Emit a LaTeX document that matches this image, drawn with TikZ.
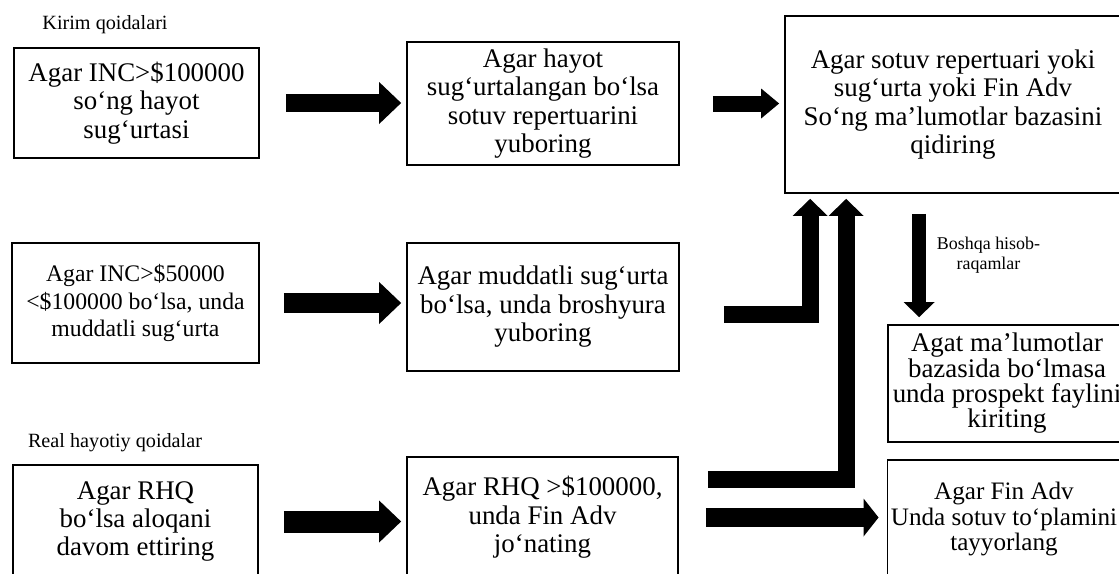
\documentclass[tikz,border=0pt]{standalone}
\usepackage{fontspec}
\setmainfont{Liberation Serif}
\usepackage{tikz}
\usetikzlibrary{arrows.meta,positioning,calc}

\begin{document}
\begin{tikzpicture}[
  rulebox/.style={draw,line width=1pt,align=center,inner sep=2pt,
    font=\fontsize{15.3}{16.2}\selectfont},
  rulelabel/.style={font=\fontsize{11.5}{14}\selectfont},
  bigarrow/.style={line width=0.36cm,line join=miter,
    -{Triangle[width=0.84cm,length=0.44cm,line width=0pt]}}
]
  \useasboundingbox (0,0) rectangle (22.38,-11.46);
  \clip (0,0) rectangle (22.38,-11.46);

  % left column
  \node[rulelabel] (kirim) at (2.1,-0.5) {Kirim qoidalari};
  \node[rulebox,minimum width=4.9cm,minimum height=2.2cm] (a1) at (2.73,-2.06)
    {Agar INC>\$100000\\so‘ng hayot\\sug‘urtasi};
  \node[rulebox,minimum width=4.94cm,minimum height=2.4cm,
    font=\fontsize{13.5}{15.4}\selectfont] (a2) at (2.71,-6.06)
    {Agar INC>\$50000\\<\$100000 bo‘lsa, unda\\muddatli sug‘urta};
  \node[rulelabel] (real) at (2.3,-8.86) {Real hayotiy qoidalar};
  \node[rulebox,minimum width=4.9cm,minimum height=2.26cm] (a3) at (2.71,-10.43)
    {Agar RHQ\\bo‘lsa aloqani\\davom ettiring};

  % middle column
  \node[rulebox,minimum width=5.44cm,minimum height=2.46cm] (b1) at (10.86,-2.07)
    {Agar hayot\\sug‘urtalangan bo‘lsa\\sotuv repertuarini\\yuboring};
  \node[rulebox,minimum width=5.44cm,minimum height=2.56cm] (b2) at (10.86,-6.14)
    {Agar muddatli sug‘urta\\bo‘lsa, unda broshyura\\yuboring};
  \node[rulebox,minimum width=5.42cm,minimum height=2.42cm] (b3) at (10.85,-10.35)
    {Agar RHQ >\$100000,\\unda Fin Adv\\jo‘nating};

  % right column
  \node[rulebox,minimum width=6.72cm,minimum height=3.54cm] (c1) at (19.06,-2.09)
    {Agar sotuv repertuari yoki\\sug‘urta yoki Fin Adv\\So‘ng ma’lumotlar bazasini\\qidiring};
  \node[rulebox,minimum width=4.76cm,minimum height=2.34cm,
    font=\fontsize{15.3}{14.4}\selectfont] (c2) at (20.14,-7.67)
    {Agat ma’lumotlar\\bazasida bo‘lmasa\\unda prospekt faylini\\kiriting};
  \node[rulebox,minimum width=4.64cm,minimum height=2.36cm,
    font=\fontsize{14.3}{14.6}\selectfont] (c3) at (20.08,-10.38)
    {Agar Fin Adv\\Unda sotuv to‘plamini\\tayyorlang};

  % arrows
  \draw[bigarrow,shorten <=0.52cm,shorten >=0.1cm] (a1.east) -- (a1.east -| b1.west);
  \draw[bigarrow,line width=0.4cm,shorten <=0.48cm,shorten >=0.1cm] (a2.east) -- (a2.east -| b2.west);
  \draw[bigarrow,line width=0.44cm,shorten <=0.5cm,shorten >=0.1cm] (a3.east) -- (a3.east -| b3.west);
  \draw[bigarrow,line width=0.32cm,shorten <=0.66cm,shorten >=0.1cm,
    -{Triangle[width=0.6cm,length=0.36cm,line width=0pt]}] (b1.east) -- (b1.east -| c1.west);
  \draw[bigarrow,line width=0.34cm,shorten <=0.88cm,shorten >=0.1cm,
    -{Triangle[width=0.7cm,length=0.34cm,line width=0pt]}]
    ([yshift=-0.14cm]b2.east) -| ([xshift=0.52cm]c1.south west);
  \draw[bigarrow,line width=0.34cm,shorten <=0.58cm,shorten >=0.1cm,
    -{Triangle[width=0.7cm,length=0.34cm,line width=0pt]}]
    ([yshift=0.76cm]b3.east) -| ([xshift=1.24cm]c1.south west);
  \draw[bigarrow,line width=0.38cm,shorten <=0.54cm,shorten >=0.16cm,
    -{Triangle[width=0.76cm,length=0.3cm,line width=0pt]}] (b3.east) -- (b3.east -| c3.west);
  \coordinate (down) at ([xshift=0.64cm]c2.north west);
  \draw[bigarrow,line width=0.28cm,shorten <=0.4cm,shorten >=0.14cm,
    -{Triangle[width=0.62cm,length=0.3cm,line width=0pt]}] (down |- c1.south) -- (down)
    node[pos=0.47,right=0.1cm,align=center,font=\fontsize{10.2}{11.6}\selectfont] {Boshqa hisob-\\raqamlar};
\end{tikzpicture}
\end{document}
